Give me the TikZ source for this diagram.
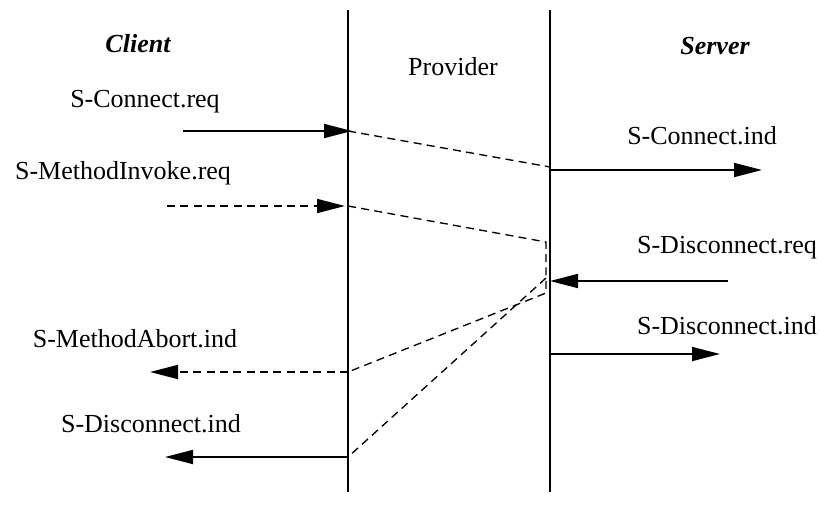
\documentclass[tikz,border=0pt]{standalone}
\usepackage{fontspec}
\setmainfont{Liberation Serif}
\usetikzlibrary{arrows.meta}
\begin{document}
\begin{tikzpicture}[x=0.75pt,y=-0.75pt,
  lbl/.style={font=\fontsize{19.5}{23}\selectfont, inner sep=0pt},
  ttl/.style={font=\fontsize{19.5}{23}\selectfont\bfseries\itshape, inner sep=0pt},
  life/.style={line width=1.2pt},
  msg/.style={line width=1.3pt, -{Triangle[length=21pt,width=10.5pt]}},
  dsh/.style={line width=1pt, dash pattern=on 6pt off 4pt}]
\useasboundingbox (0,0) rectangle (820,521);
% lifelines
\coordinate (pt) at (348,10); \coordinate (pb) at (348,492);
\coordinate (st) at (550,10); \coordinate (sb) at (550,492);
\draw[life] (pt) -- (pb);
\draw[life] (st) -- (sb);
% titles
\node[ttl] (client) at (138,44) {Client};
\node[lbl] (provider) at (453,67) {Provider};
\node[ttl] (server) at (715,46) {Server};
% labels
\node[lbl] (creq) at (145,102) {S-Connect.req};
\node[lbl] (mreq) at (123,173) {S-MethodInvoke.req};
\node[lbl] (cind) at (702,136) {S-Connect.ind};
\node[lbl] (dreq) at (727,248) {S-Disconnect.req};
\node[lbl] (dindr) at (727,326) {S-Disconnect.ind};
\node[lbl] (mabt) at (135,339) {S-MethodAbort.ind};
\node[lbl] (dindl) at (151,424) {S-Disconnect.ind};
% points
\coordinate (c1s) at (183,131); \coordinate (c1e) at (352,131);
\coordinate (c1m) at (348,131);
\coordinate (c2s) at (550,167);
\coordinate (c3s) at (550,170); \coordinate (c3e) at (762,170);
\coordinate (m1s) at (167,206); \coordinate (m1e) at (345,206);
\coordinate (m2s) at (348,206);
\coordinate (k1) at (546,242); \coordinate (k2) at (546,293);
\coordinate (k3) at (546,278);
\coordinate (d1s) at (728,281); \coordinate (d1e) at (550,281);
\coordinate (d2s) at (550,354); \coordinate (d2e) at (720,354);
\coordinate (a1s) at (348,372); \coordinate (a1e) at (150,372);
\coordinate (e1s) at (348,457); \coordinate (e1e) at (165,457);
% messages
\draw[msg] (c1s) -- (c1e);
\draw[dsh] (c1m) -- (c2s);
\draw[msg] (c3s) -- (c3e);
\draw[msg, dsh, line width=1.3pt] (m1s) -- (m1e);
\draw[dsh] (m2s) -- (k1) -- (k2) -- (a1s);
\draw[msg] (d1s) -- (d1e);
\draw[dsh] (k3) -- (e1s);
\draw[msg] (d2s) -- (d2e);
\draw[msg, dsh, line width=1.3pt] (a1s) -- (a1e);
\draw[msg] (e1s) -- (e1e);
\end{tikzpicture}
\end{document}
